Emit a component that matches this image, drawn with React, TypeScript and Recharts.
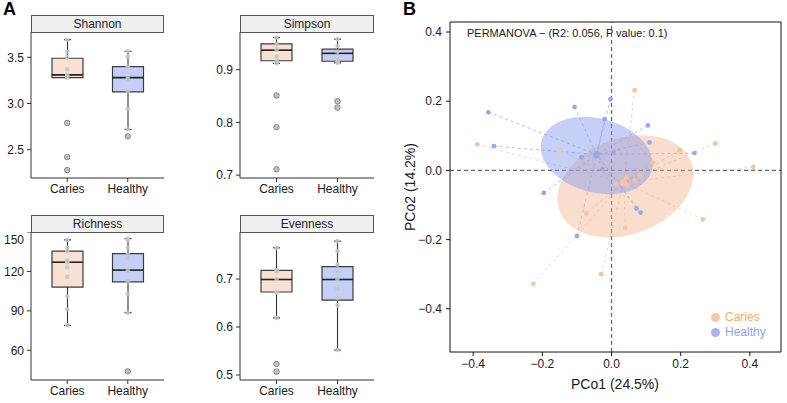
import React from "react";
import {
  ComposedChart,
  ScatterChart,
  Bar,
  Scatter,
  XAxis,
  YAxis,
  Cell,
  ReferenceLine,
} from "recharts";

const FONT = "'Liberation Sans', Arial, Helvetica, sans-serif";

const GROUPS = ["Caries", "Healthy"];
const BOX_FILL = ["#F7E1D2", "#C3CFF6"];

// [lower whisker, q1, median, q3, upper whisker] per group
const shannonStats = [
  [3.28, 3.28, 3.31, 3.49, 3.69],
  [2.72, 3.125, 3.28, 3.4, 3.565],
];
const shannonCaries = [3.69, 3.56, 3.5, 3.37, 3.31, 3.3, 3.29, 3.28, 2.79, 2.42, 2.28];
const shannonHealthy = [3.565, 3.51, 3.4, 3.39, 3.27, 3.26, 3.13, 2.94, 2.72, 2.645];

const simpsonStats = [
  [0.912, 0.917, 0.937, 0.949, 0.961],
  [0.913, 0.916, 0.931, 0.939, 0.958],
];
const simpsonCaries = [0.961, 0.949, 0.939, 0.925, 0.917, 0.912, 0.851, 0.791, 0.711];
const simpsonHealthy = [0.958, 0.945, 0.934, 0.92, 0.915, 0.913, 0.84, 0.828];

const richnessStats = [
  [79, 108, 127, 135.5, 144],
  [88.6, 112, 121, 133.5, 145],
];
const richnessCaries = [144, 138, 135.5, 128, 127, 123, 116, 101, 91, 79];
const richnessHealthy = [145, 144, 138, 133, 130.5, 120.5, 112.5, 103, 88.6, 44];

const evennessStats = [
  [0.619, 0.673, 0.699, 0.718, 0.765],
  [0.552, 0.656, 0.699, 0.726, 0.779],
];
const evennessCaries = [0.765, 0.718, 0.715, 0.7, 0.673, 0.672, 0.619, 0.523, 0.507];
const evennessHealthy = [0.779, 0.758, 0.73, 0.715, 0.7, 0.68, 0.66, 0.645, 0.552];

// PCoA sample coordinates [PCo1, PCo2]
const cariesPts = [
  [-0.388, 0.075], [-0.226, -0.328], [0.067, 0.232], [0.3, 0.078], [0.41, 0.01],
  [0.264, -0.142], [-0.03, -0.3], [-0.148, 0.058], [0.197, 0.058], [0.119, 0.023],
  [0.081, -0.014], [0.043, -0.02], [0.067, -0.029], [0.014, -0.038], [0.046, -0.043],
  [-0.073, -0.124], [0.04, -0.166],
];
const healthyPts = [
  [-0.356, 0.168], [-0.107, 0.183], [-0.34, 0.07], [-0.196, -0.065], [-0.003, 0.206],
  [0.105, 0.13], [0.11, 0.081], [0.24, 0.05], [-0.02, 0.148], [-0.1, -0.19],
  [0.072, -0.11], [0.084, -0.122], [0.006, 0.052], [-0.026, 0.003], [-0.087, 0.038],
];
const centroids = [
  [0.035, -0.035],
  [-0.043, 0.046],
];
// [centre x, centre y, semi-axis a, semi-axis b, angle in degrees]
const cariesEllipse = [0.04, -0.046, 0.203, 0.139, 20];
const healthyEllipse = [-0.043, 0.043, 0.165, 0.107, -15];

const pcoTicks = [-0.4, -0.2, 0, 0.2, 0.4];

const PT_COLOR = ["#F6C3A0", "#97AAF0"];
const SPOKE_COLOR = ["#F4C29F", "#8FA3EE"];
const ELLIPSE_FILL = ["rgba(244,182,144,0.45)", "rgba(128,151,237,0.45)"];

const fmt1 = (v: number) => v.toFixed(1).replace("-", "\u2212");
const fmt0 = (v: number) => String(v);

const Whisker = (p: any) => {
  const cx = p.x + p.width / 2;
  const y2 = p.y + p.height;
  return (
    <g stroke="#333" strokeWidth={1.1}>
      <line x1={cx} x2={cx} y1={p.y} y2={y2} />
      <line x1={cx - 3.5} x2={cx + 3.5} y1={p.y} y2={p.y} />
      <line x1={cx - 3.5} x2={cx + 3.5} y1={y2} y2={y2} />
    </g>
  );
};

const MedianLine = (p: any) => (
  <line x1={p.cx - 15.5} x2={p.cx + 15.5} y1={p.cy} y2={p.cy} stroke="#222" strokeWidth={1.6} />
);

const Outlier = (p: any) => (
  <circle cx={p.cx} cy={p.cy} r={2.7} fill="#a4a4a4" stroke="#6a6a6a" strokeWidth={0.8} />
);

const JitterDot = (p: any) => (
  <circle cx={p.cx} cy={p.cy} r={2.3} fill="#c4c4c4" fillOpacity={0.85} />
);

interface BoxPanelProps {
  left: number;
  top: number;
  width: number;
  height: number;
  yWidth: number;
  domain: [number, number];
  ticks: number[];
  stats: number[][];
  points: number[][];
  fmt: (v: number) => string;
}

function BoxPanel({ left, top, width, height, yWidth, domain, ticks, stats, points, fmt }: BoxPanelProps) {
  const rows = GROUPS.map((name, i) => {
    const [lo, q1, med, q3, hi] = stats[i];
    return { name, lo, q1, med, q3, hi };
  });
  const dots: { name: string; v: number }[] = [];
  const outliers: { name: string; v: number }[] = [];
  GROUPS.forEach((name, i) => {
    points[i].forEach((v) => {
      dots.push({ name, v });
      if (v < rows[i].lo - 1e-9 || v > rows[i].hi + 1e-9) outliers.push({ name, v });
    });
  });
  const medians = rows.map((r) => ({ name: r.name, v: r.med }));

  return (
    <div style={{ position: "absolute", left, top }}>
      <ComposedChart width={width} height={height} data={rows} margin={{ top: 0, right: 6, bottom: 0, left: 0 }}>
        <XAxis
          xAxisId="b"
          dataKey="name"
          type="category"
          allowDuplicatedCategory={false}
          padding={{ left: 6, right: 6 }}
          height={26}
          tickSize={4}
          tickMargin={2}
          interval={0}
          stroke="#333"
          tick={{ fill: "#1a1a1a", fontSize: 12 }}
        />
        <XAxis
          xAxisId="w"
          dataKey="name"
          type="category"
          allowDuplicatedCategory={false}
          padding={{ left: 6, right: 6 }}
          hide
        />
        <YAxis
          type="number"
          domain={domain}
          ticks={ticks}
          allowDataOverflow
          width={yWidth}
          tickSize={4}
          tickMargin={3}
          stroke="#333"
          tick={{ fill: "#1a1a1a", fontSize: 12 }}
          tickFormatter={fmt}
        />
        <Bar xAxisId="w" dataKey={(d: any) => [d.lo, d.hi]} barSize={31} shape={Whisker} isAnimationActive={false} />
        <Bar xAxisId="b" dataKey={(d: any) => [d.q1, d.q3]} barSize={31} stroke="#3d3d3d" strokeWidth={1.2} isAnimationActive={false}>
          {rows.map((r, i) => (
            <Cell key={r.name} fill={BOX_FILL[i]} />
          ))}
        </Bar>
        <Scatter xAxisId="b" data={medians} dataKey="v" shape={MedianLine} isAnimationActive={false} />
        <Scatter xAxisId="b" data={outliers} dataKey="v" shape={Outlier} isAnimationActive={false} />
        <Scatter xAxisId="b" data={dots} dataKey="v" shape={JitterDot} isAnimationActive={false} />
      </ComposedChart>
    </div>
  );
}

function ellipsePoints([cx, cy, a, b, deg]: number[]) {
  const t = (deg * Math.PI) / 180;
  const out: { x: number; y: number }[] = [];
  for (let k = 0; k <= 90; k++) {
    const s = (k / 90) * 2 * Math.PI;
    const ex = a * Math.cos(s);
    const ey = b * Math.sin(s);
    out.push({ x: cx + ex * Math.cos(t) - ey * Math.sin(t), y: cy + ex * Math.sin(t) + ey * Math.cos(t) });
  }
  return out;
}

const ellipseLine = (fill: string) => (p: any) => (
  <path
    d={p.points.map((pt: any, i: number) => `${i ? "L" : "M"}${pt.x},${pt.y}`).join("") + "Z"}
    fill={fill}
    stroke="none"
  />
);

const noShape = () => <g />;

const dotShape = (fill: string, r: number) => (p: any) => <circle cx={p.cx} cy={p.cy} r={r} fill={fill} />;

function PcoaPanel() {
  const groups = [cariesPts, healthyPts].map((g) => g.map(([x, y]) => ({ x, y })));
  const ells = [cariesEllipse, healthyEllipse].map(ellipsePoints);
  const axisTick = { fill: "#1a1a1a", fontSize: 12 };
  return (
    <div style={{ position: "absolute", left: 400, top: 0 }}>
      <ScatterChart width={387} height={403} margin={{ top: 0, right: 0, bottom: 0, left: 0 }}>
        <XAxis
          dataKey="x"
          type="number"
          domain={[-0.467, 0.49]}
          ticks={pcoTicks}
          allowDataOverflow
          height={51}
          tickSize={4}
          tickMargin={3}
          stroke="#111"
          tick={axisTick}
          tickFormatter={fmt1}
        />
        <XAxis
          xAxisId="top"
          orientation="top"
          type="number"
          domain={[-0.467, 0.49]}
          ticks={pcoTicks}
          allowDataOverflow
          height={22}
          tickSize={4}
          tick={false}
          stroke="#111"
        />
        <YAxis
          dataKey="y"
          type="number"
          domain={[-0.525, 0.429]}
          ticks={pcoTicks}
          allowDataOverflow
          width={50}
          tickSize={4}
          tickMargin={4}
          stroke="#111"
          tick={axisTick}
          tickFormatter={fmt1}
        />
        <YAxis
          yAxisId="right"
          orientation="right"
          type="number"
          domain={[-0.525, 0.429]}
          ticks={pcoTicks}
          allowDataOverflow
          width={6}
          tickSize={4}
          tick={false}
          stroke="#111"
        />
        {ells.map((e, i) => (
          <Scatter
            key={"e" + i}
            data={e}
            shape={noShape}
            line={ellipseLine(ELLIPSE_FILL[i])}
            lineType="joint"
            isAnimationActive={false}
          />
        ))}
        {groups.map((g, gi) =>
          g.map((pt, k) => (
            <ReferenceLine
              key={`s${gi}-${k}`}
              segment={[
                { x: pt.x, y: pt.y },
                { x: centroids[gi][0], y: centroids[gi][1] },
              ]}
              stroke={SPOKE_COLOR[gi]}
              strokeOpacity={0.8}
              strokeWidth={0.9}
              strokeDasharray="3 3"
            />
          ))
        )}
        <ReferenceLine x={0} stroke="#666" strokeWidth={1.2} strokeDasharray="4 3" />
        <ReferenceLine y={0} stroke="#666" strokeWidth={1.2} strokeDasharray="4 3" />
        {groups.map((g, gi) => (
          <Scatter key={"p" + gi} data={g} shape={dotShape(PT_COLOR[gi], 2.4)} isAnimationActive={false} />
        ))}
        <Scatter
          data={centroids.map(([x, y]) => ({ x, y }))}
          shape={(p: any) => <circle cx={p.cx} cy={p.cy} r={3.6} fill={PT_COLOR[p.index ?? 0]} />}
          isAnimationActive={false}
        >
          {centroids.map((_, i) => (
            <Cell key={i} fill={PT_COLOR[i]} />
          ))}
        </Scatter>
      </ScatterChart>
    </div>
  );
}

const stripStyle = (left: number, top: number, width: number): React.CSSProperties => ({
  position: "absolute",
  left,
  top,
  width,
  height: 18,
  boxSizing: "border-box",
  border: "1px solid #555",
  background: "#efefef",
  textAlign: "center",
  fontSize: 12,
  lineHeight: "16px",
  color: "#222",
});

export default function App() {
  return (
    <div
      style={{
        position: "absolute",
        left: 0,
        top: 0,
        width: 787,
        height: 403,
        overflow: "hidden",
        background: "#fff",
        fontFamily: FONT,
      }}
    >
      <div style={{ position: "absolute", left: 3, top: -1, fontSize: 18, fontWeight: "bold" }}>A</div>
      <div style={{ position: "absolute", left: 403, top: -1, fontSize: 18, fontWeight: "bold" }}>B</div>

      <BoxPanel
        left={0}
        top={32}
        width={170}
        height={172}
        yWidth={31}
        domain={[2.194, 3.774]}
        ticks={[2.5, 3.0, 3.5]}
        stats={shannonStats}
        points={[shannonCaries, shannonHealthy]}
        fmt={fmt1}
      />
      <BoxPanel
        left={200}
        top={32}
        width={180}
        height={172}
        yWidth={40}
        domain={[0.6945, 0.9715]}
        ticks={[0.7, 0.8, 0.9]}
        stats={simpsonStats}
        points={[simpsonCaries, simpsonHealthy]}
        fmt={fmt1}
      />
      <BoxPanel
        left={0}
        top={232}
        width={170}
        height={174}
        yWidth={31}
        domain={[37.4, 150]}
        ticks={[60, 90, 120, 150]}
        stats={richnessStats}
        points={[richnessCaries, richnessHealthy]}
        fmt={fmt0}
      />
      <BoxPanel
        left={200}
        top={232}
        width={180}
        height={174}
        yWidth={40}
        domain={[0.4896, 0.798]}
        ticks={[0.5, 0.6, 0.7]}
        stats={evennessStats}
        points={[evennessCaries, evennessHealthy]}
        fmt={fmt1}
      />

      <div style={stripStyle(31, 15, 133)}>Shannon</div>
      <div style={stripStyle(240, 15, 134)}>Simpson</div>
      <div style={stripStyle(31, 215, 133)}>Richness</div>
      <div style={stripStyle(240, 215, 134)}>Evenness</div>

      <PcoaPanel />

      <div style={{ position: "absolute", left: 467, top: 27, fontSize: 11, color: "#1a1a1a", whiteSpace: "nowrap" }}>
        PERMANOVA {"\u2212"} (R2: 0.056, P value: 0.1)
      </div>
      <div
        style={{
          position: "absolute",
          left: 615,
          top: 384,
          transform: "translate(-50%, -50%)",
          fontSize: 14,
          color: "#1a1a1a",
          whiteSpace: "nowrap",
        }}
      >
        PCo1 (24.5%)
      </div>
      <div
        style={{
          position: "absolute",
          left: 410,
          top: 187,
          transform: "translate(-50%, -50%) rotate(-90deg)",
          fontSize: 14,
          color: "#1a1a1a",
          whiteSpace: "nowrap",
        }}
      >
        PCo2 (14.2%)
      </div>

      <div style={{ position: "absolute", left: 711, top: 310, fontSize: 12, lineHeight: "15px" }}>
        {GROUPS.map((g, i) => (
          <div key={g} style={{ display: "flex", alignItems: "center" }}>
            <span
              style={{
                display: "inline-block",
                width: 9,
                height: 9,
                borderRadius: "50%",
                background: i === 0 ? "#F7C8A6" : "#A5B5F2",
                marginRight: 5,
              }}
            />
            <span style={{ color: i === 0 ? "#F0B25C" : "#8EA3EF" }}>{g}</span>
          </div>
        ))}
      </div>
    </div>
  );
}
